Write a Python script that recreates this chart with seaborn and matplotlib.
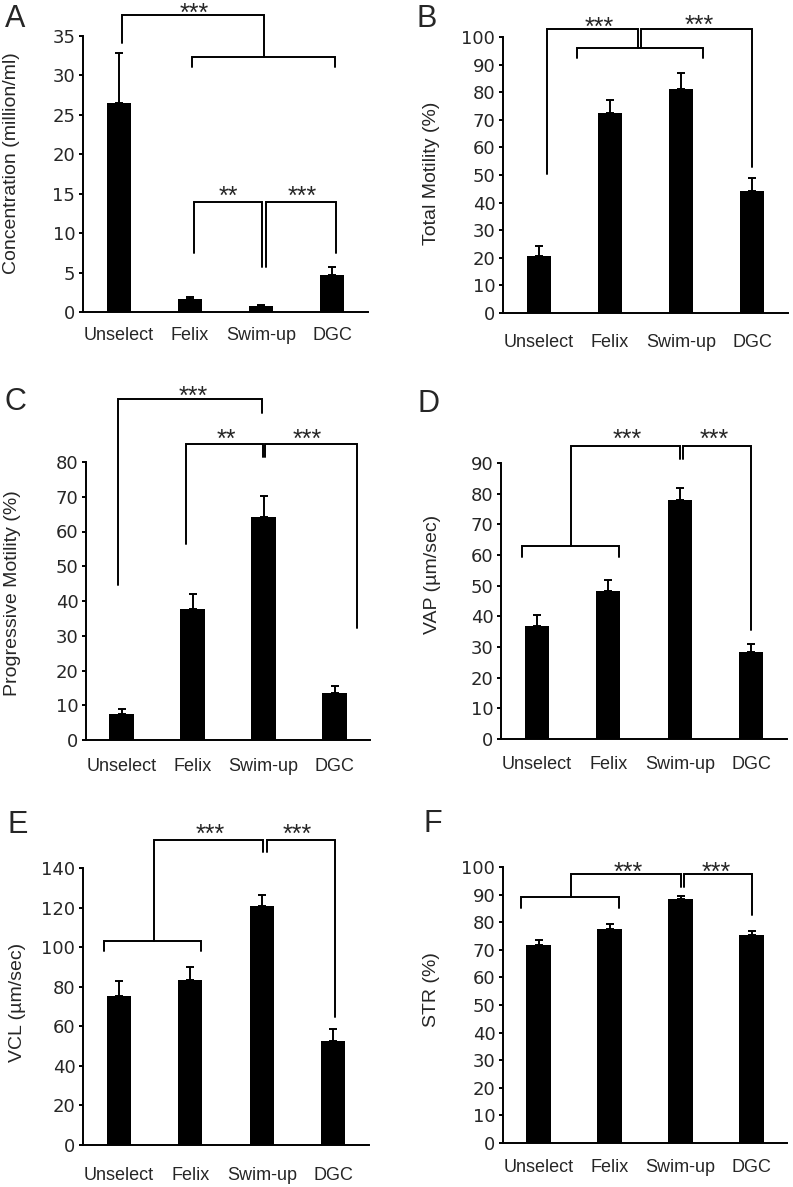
import numpy as np
import pandas as pd
import matplotlib
matplotlib.use("Agg")
import matplotlib.pyplot as plt
import seaborn as sns

# ---------------- data ----------------
groups = ["Unselect", "Felix", "Swim-up", "DGC"]

conc_mean = [26.5, 1.7, 0.7, 4.7]
conc_err = [6.4, 0.25, 0.2, 1.05]

total_mean = [20.8, 72.6, 81.0, 44.2]
total_err = [3.4, 4.5, 6.0, 4.8]

prog_mean = [7.6, 37.8, 64.1, 13.4]
prog_err = [1.2, 4.3, 6.2, 2.2]

vap_mean = [36.7, 48.3, 77.9, 28.5]
vap_err = [3.8, 3.6, 3.8, 2.5]

vcl_mean = [75.4, 83.5, 120.7, 52.6]
vcl_err = [7.7, 6.5, 5.9, 5.9]

str_mean = [71.6, 77.5, 88.4, 75.2]
str_err = [1.8, 2.0, 1.0, 1.5]

ylabels = ["Concentration (million/ml)", "Total Motility (%)",
           "Progressive Motility (%)", "VAP (\u00b5m/sec)",
           "VCL (\u00b5m/sec)", "STR (%)"]
letters = ["A", "B", "C", "D", "E", "F"]
ymaxes = [35, 100, 80, 90, 140, 100]
ysteps = [5, 10, 10, 10, 20, 10]

# ---------------- layout (annotation geometry) ----------------
W, H = 793, 1187
boxes = [(83, 36, 368, 312), (503, 37, 788, 313),
         (86, 462, 370, 740), (501, 463, 787, 739),
         (83, 868, 369, 1145), (503, 867, 787, 1143)]
xpads = [10.5, 15.3, 13.0, 12.3, 16.2, 11.6]
ylabel_px = [(12, 163.5), (431, 173.5), (13, 593.5), (432, 574), (18, 1002), (432, 990)]
letter_px = [(5, 27), (417, 27), (5, 410), (418, 412), (7, 833), (423, 832)]

brackets = [
    [  # A
        [(0.05, 34.1), (0.05, 37.7), (2.04, 37.7), (2.04, 32.4)],
        [(1.03, 31.1), (1.03, 32.4), (3.04, 32.4), (3.04, 31.1)],
        [(1.06, 7.45), (1.06, 14.0), (2.01, 14.0), (2.01, 5.7)],
        [(2.07, 5.7), (2.07, 14.0), (3.05, 14.0), (3.05, 7.45)],
    ],
    [  # B
        [(0.113, 50.4), (0.113, 102.8), (1.40, 102.8), (1.40, 95.9)],
        [(1.437, 95.9), (1.437, 102.8), (2.99, 102.8), (2.99, 53.0)],
        [(0.534, 92.3), (0.534, 95.9), (2.31, 95.9), (2.31, 92.3)],
    ],
    [  # C
        [(-0.045, 44.6), (-0.045, 98.0), (1.975, 98.0), (1.975, 94.1)],
        [(0.908, 56.4), (0.908, 85.2), (1.99, 85.2), (1.99, 81.4)],
        [(2.02, 81.4), (2.02, 85.2), (3.31, 85.2), (3.31, 32.1)],
    ],
    [  # D
        [(-0.21, 59.3), (-0.21, 62.8), (1.15, 62.8), (1.15, 59.3)],
        [(0.48, 62.8), (0.48, 95.6), (2.01, 95.6), (2.01, 91.4)],
        [(2.05, 91.4), (2.05, 95.6), (3.0, 95.6), (3.0, 35.4)],
    ],
    [  # E
        [(-0.20, 97.8), (-0.20, 102.9), (1.15, 102.9), (1.15, 97.8)],
        [(0.49, 102.9), (0.49, 154.3), (2.02, 154.3), (2.02, 147.9)],
        [(2.07, 147.9), (2.07, 154.3), (3.02, 154.3), (3.02, 64.9)],
    ],
    [  # F
        [(-0.24, 85.1), (-0.24, 89.1), (1.13, 89.1), (1.13, 85.1)],
        [(0.46, 89.1), (0.46, 97.5), (2.01, 97.5), (2.01, 92.8)],
        [(2.05, 92.8), (2.05, 97.5), (3.01, 97.5), (3.01, 82.7)],
    ],
]
stars = [
    [("***", 1.06, 38.7), ("**", 1.535, 15.5), ("***", 2.57, 15.5)],
    [("***", 0.847, 106.2), ("***", 2.26, 106.8)],
    [("***", 1.01, 100.9), ("**", 1.47, 88.6), ("***", 2.61, 88.6)],
    [("***", 1.27, 100.0), ("***", 2.48, 100.0)],
    [("***", 1.28, 160.7), ("***", 2.50, 160.7)],
    [("***", 1.26, 100.5), ("***", 2.51, 100.5)],
]

means = [conc_mean, total_mean, prog_mean, vap_mean, vcl_mean, str_mean]
errs = [conc_err, total_err, prog_err, vap_err, vcl_err, str_err]

# ---------------- style ----------------
sns.set_style("white")
plt.rcParams["font.family"] = ["Liberation Sans", "DejaVu Sans"]
plt.rcParams["axes.edgecolor"] = "black"

fig = plt.figure(figsize=(W / 100, H / 100), dpi=100)
LW = 1.4
STAR_FS = 18

for i in range(6):
    l, t, r, b = boxes[i]
    ax = fig.add_axes([l / W, 1 - b / H, (r - l) / W, (b - t) / H])
    df = pd.DataFrame({"group": groups, "value": means[i]})
    sns.barplot(data=df, x="group", y="value", order=groups, color="black",
                saturation=1, width=0.34, errorbar=None, ax=ax,
                edgecolor="black", linewidth=0)
    ax.errorbar(np.arange(4), means[i], yerr=[np.zeros(4), errs[i]], fmt="none",
                ecolor="black", elinewidth=LW, capsize=3, capthick=LW)

    ax.set_xlim(-0.5, 3.5)
    ax.set_ylim(0, ymaxes[i])
    yt = np.arange(0, ymaxes[i] + 0.01, ysteps[i])
    ax.set_yticks(yt)
    ax.set_yticklabels([f"{int(v)}" for v in yt], fontfamily="DejaVu Sans", fontsize=13)
    ax.set_xticks(range(4))
    ax.set_xticklabels(groups, fontsize=13)
    ax.set_xticks([-0.5, 0.5, 1.5, 2.5, 3.5], minor=True)
    ax.tick_params(axis="x", which="major", length=0, pad=xpads[i])
    ax.tick_params(axis="x", which="minor", length=3.5, width=LW, direction="out", color="black")
    ax.tick_params(axis="y", which="major", length=3, width=LW, direction="out",
                   pad=2.5, color="black", left=True)
    ax.set_xlabel("")
    sns.despine(ax=ax)
    for s in ("left", "bottom"):
        ax.spines[s].set_linewidth(LW)
        ax.spines[s].set_color("black")

    ax.set_ylabel(ylabels[i], fontsize=14, va="center", ha="center")
    lx, ly = ylabel_px[i]
    ax.yaxis.set_label_coords((lx - l) / (r - l), (b - ly) / (b - t))

    for poly in brackets[i]:
        xs = [p[0] for p in poly]
        ys = [p[1] for p in poly]
        ax.plot(xs, ys, color="black", lw=1.4, clip_on=False, solid_joinstyle="miter")
    for txt, sx, sy in stars[i]:
        ax.annotate(txt, xy=(sx, sy), xytext=(0, -0.58 * STAR_FS), textcoords="offset points",
                    ha="center", va="baseline", fontsize=STAR_FS, annotation_clip=False)

    px, py = letter_px[i]
    fig.text(px / W, 1 - py / H, letters[i], fontsize=22, ha="left", va="baseline")

fig.savefig("out.png", dpi=100, facecolor="white")
